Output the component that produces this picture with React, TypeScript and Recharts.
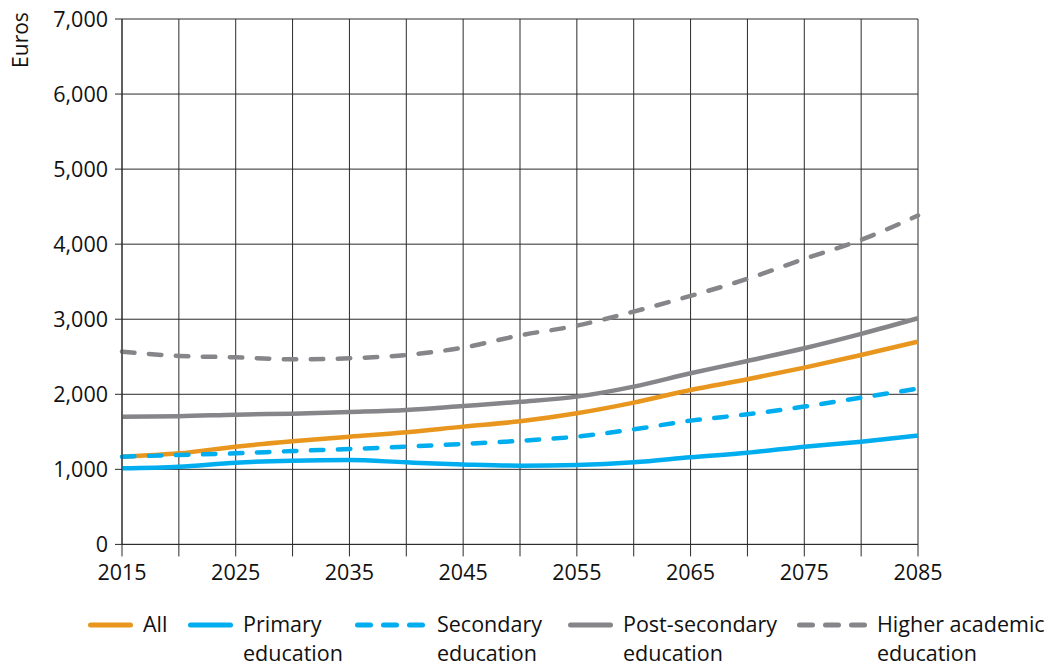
import React from 'react';
import { LineChart, Line, XAxis, YAxis, CartesianGrid, Label } from 'recharts';

const years = [2015, 2020, 2025, 2030, 2035, 2040, 2045, 2050, 2055, 2060, 2065, 2070, 2075, 2080, 2085];
const allValues = [1169, 1213, 1302, 1373, 1435, 1493, 1569, 1640, 1747, 1889, 2058, 2200, 2355, 2524, 2702];
const primaryValues = [1013, 1035, 1089, 1115, 1124, 1093, 1066, 1049, 1058, 1093, 1160, 1222, 1302, 1369, 1449];
const secondaryValues = [1169, 1191, 1213, 1244, 1271, 1302, 1338, 1380, 1436, 1533, 1649, 1733, 1836, 1955, 2075];
const postSecondaryValues = [1702, 1707, 1729, 1742, 1764, 1791, 1844, 1900, 1969, 2102, 2280, 2444, 2613, 2804, 3013];
const higherValues = [2569, 2511, 2493, 2466, 2480, 2524, 2622, 2785, 2915, 3102, 3311, 3538, 3804, 4058, 4382];

const yTicks = [0, 1000, 2000, 3000, 4000, 5000, 6000, 7000];
const xTicks = [2015, 2020, 2025, 2030, 2035, 2040, 2045, 2050, 2055, 2060, 2065, 2070, 2075, 2080, 2085];

const ORANGE = '#E8961E';
const BLUE = '#00AEEF';
const GRAY = '#86868A';
const GRID = '#2a2a2a';
const FONT = '"Open Sans", sans-serif';
const DASH = '12.5 14.5';

const data = years.map((y, i) => ({
  year: y,
  all: allValues[i],
  primary: primaryValues[i],
  secondary: secondaryValues[i],
  post: postSecondaryValues[i],
  higher: higherValues[i],
}));

const legendItems = [
  { key: 'all', lines: ['All'], color: ORANGE, dashed: false, swatchX: 88, textX: 143 },
  { key: 'primary', lines: ['Primary', 'education'], color: BLUE, dashed: false, swatchX: 188, textX: 243 },
  { key: 'secondary', lines: ['Secondary', 'education'], color: BLUE, dashed: true, swatchX: 355, textX: 437 },
  { key: 'post', lines: ['Post-secondary', 'education'], color: GRAY, dashed: false, swatchX: 568, textX: 623 },
  { key: 'higher', lines: ['Higher academic', 'education'], color: GRAY, dashed: true, swatchX: 797, textX: 877 },
];

function LegendBlock() {
  return (
    <>
      {legendItems.map((it) => (
        <React.Fragment key={it.key}>
          <svg
            width={76}
            height={10}
            style={{ position: 'absolute', left: it.swatchX, top: 625 - 5 }}
          >
            {it.dashed ? (
              <line x1={2.5} y1={5} x2={71} y2={5} stroke={it.color} strokeWidth={5} strokeLinecap="round" strokeDasharray="13 13" />
            ) : (
              <line x1={2.5} y1={5} x2={42.5} y2={5} stroke={it.color} strokeWidth={5} strokeLinecap="round" />
            )}
          </svg>
          <div
            style={{
              position: 'absolute',
              left: it.textX,
              top: 609,
              fontFamily: FONT,
              fontSize: 21.5,
              lineHeight: '29px',
              color: '#111',
              whiteSpace: 'nowrap',
            }}
          >
            {it.lines.map((l) => (
              <div key={l}>{l}</div>
            ))}
          </div>
        </React.Fragment>
      ))}
    </>
  );
}

export default function App() {
  return (
    <div style={{ position: 'relative', width: 1055, height: 666, margin: '-8px 0 0 -8px' }}>
      <LineChart
        width={1055}
        height={598}
        data={data}
        margin={{ top: 19, right: 137, left: 0, bottom: 0 }}
      >
        <CartesianGrid stroke={GRID} strokeWidth={1} />
        <XAxis
          dataKey="year"
          type="number"
          domain={[2015, 2085]}
          ticks={xTicks}
          interval={0}
          tickFormatter={(v: number) => (v % 10 === 5 ? String(v) : '')}
          tickSize={12}
          tickMargin={8}
          height={53.6}
          axisLine={{ stroke: GRID }}
          tickLine={{ stroke: GRID }}
          tick={{ fill: '#111', fontSize: 21.5, fontFamily: FONT }}
        />
        <YAxis
          domain={[0, 7000]}
          ticks={yTicks}
          interval={0}
          width={122}
          tickFormatter={(v: number) => v.toLocaleString('en-US')}
          tickSize={7}
          tickMargin={7}
          axisLine={{ stroke: GRID }}
          tickLine={{ stroke: GRID }}
          tick={{ fill: '#111', fontSize: 21.5, fontFamily: FONT }}
        >
          <Label
            content={() => (
              <text
                x={20}
                y={40}
                transform="rotate(-90 20 40)"
                textAnchor="middle"
                dominantBaseline="central"
                fontFamily={FONT}
                fontSize={21}
                fill="#111"
              >
                Euros
              </text>
            )}
          />
        </YAxis>
        <Line type="monotone" dataKey="higher" stroke={GRAY} strokeWidth={4.5} strokeDasharray={DASH} strokeLinecap="round" dot={false} isAnimationActive={false} />
        <Line type="monotone" dataKey="post" stroke={GRAY} strokeWidth={4.5} dot={false} isAnimationActive={false} />
        <Line type="monotone" dataKey="all" stroke={ORANGE} strokeWidth={4.5} dot={false} isAnimationActive={false} />
        <Line type="monotone" dataKey="secondary" stroke={BLUE} strokeWidth={4.5} strokeDasharray={DASH} strokeLinecap="round" dot={false} isAnimationActive={false} />
        <Line type="monotone" dataKey="primary" stroke={BLUE} strokeWidth={4.5} dot={false} isAnimationActive={false} />
      </LineChart>
      <LegendBlock />
    </div>
  );
}
